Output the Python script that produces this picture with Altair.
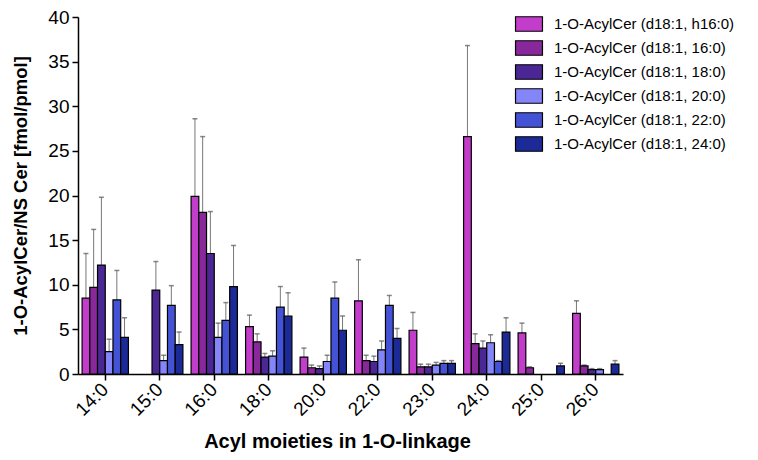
import altair as alt
import pandas as pd

cats = ["14:0", "15:0", "16:0", "18:0", "20:0", "22:0", "23:0", "24:0", "25:0", "26:0"]
series = ["1-O-AcylCer (d18:1, h16:0)", "1-O-AcylCer (d18:1, 16:0)", "1-O-AcylCer (d18:1, 18:0)",
          "1-O-AcylCer (d18:1, 20:0)", "1-O-AcylCer (d18:1, 22:0)", "1-O-AcylCer (d18:1, 24:0)"]
colors = ["#C23DC9", "#88289A", "#4B2796", "#8585FA", "#4453D6", "#1B2A96"]

h16 = [8.5, None, 19.9, 5.3, 1.9, 8.2, 4.9, 26.6, 4.6, 6.8]
h16_up = [13.5, None, 28.6, 6.6, 2.9, 12.8, 6.9, 36.8, 5.7, 8.2]
s16 = [9.7, None, 18.1, 3.6, 0.7, 1.5, 0.8, 3.4, 0.7, 0.9]
s16_up = [16.2, None, 26.6, 4.5, 1.0, 2.1, 1.1, 4.5, 0.8, 1.0]
s18 = [12.2, 9.4, 13.5, 1.9, 0.6, 1.4, 0.8, 2.9, None, 0.5]
s18_up = [19.8, 12.6, 18.2, 2.3, 0.9, 2.0, 1.1, 3.7, None, 0.6]
s20 = [2.5, 1.5, 4.1, 2.0, 1.4, 2.7, 1.0, 3.5, None, 0.5]
s20_up = [3.9, 2.1, 5.7, 2.6, 2.1, 3.7, 1.3, 4.4, None, 0.6]
s22 = [8.3, 7.7, 6.0, 7.5, 8.5, 7.7, 1.2, 1.4, None, None]
s22_up = [11.6, 9.9, 8.0, 9.8, 10.3, 8.8, 1.5, 1.5, None, None]
s24 = [4.1, 3.3, 9.8, 6.5, 4.9, 4.0, 1.2, 4.7, 0.9, 1.1]
s24_up = [6.3, 4.7, 14.4, 9.1, 6.5, 5.1, 1.5, 6.3, 1.2, 1.5]

vals = [h16, s16, s18, s20, s22, s24]
ups = [h16_up, s16_up, s18_up, s20_up, s22_up, s24_up]

rows = []
for si, s in enumerate(series):
    for ci, c in enumerate(cats):
        v = vals[si][ci]
        if v is None:
            continue
        rows.append({"cat": c, "series": s, "value": v, "upper": ups[si][ci]})
df = pd.DataFrame(rows)

FONT = "Liberation Sans"

x_enc = alt.X("cat:N", sort=cats,
              scale=alt.Scale(paddingInner=0.15, paddingOuter=0.075),
              axis=alt.Axis(title="Acyl moieties in 1-O-linkage", labelAngle=-45,
                            labelFontSize=19, labelColor="black", labelFont=FONT,
                            titleFontSize=20, titleFont=FONT, titleFontWeight="bold",
                            titleColor="black", titlePadding=12, titleX=259,
                            domainColor="black", domainWidth=1.5, tickColor="black",
                            tickWidth=1.5, tickSize=6, labelPadding=6))
xoff = alt.XOffset("series:N", sort=series, scale=alt.Scale(paddingInner=0, paddingOuter=0))

y_scale = alt.Scale(domain=[0, 40], nice=False)

bars = alt.Chart(df).mark_bar(stroke="black", strokeWidth=1.2).encode(
    x=x_enc,
    xOffset=xoff,
    y=alt.Y("value:Q", scale=y_scale,
            axis=alt.Axis(title="1-O-AcylCer/NS Cer [fmol/pmol]", values=list(range(0, 41, 5)),
                          grid=False, labelFontSize=19, labelColor="black", labelFont=FONT,
                          titleFontSize=18.5, titleFont=FONT, titleFontWeight="bold",
                          titleColor="black", titlePadding=17,
                          domainColor="black", domainWidth=1.5, tickColor="black",
                          tickWidth=1.5, tickSize=6, labelPadding=3)),
    color=alt.Color("series:N", sort=series,
                    scale=alt.Scale(domain=series, range=colors),
                    legend=alt.Legend(title=None, orient="none", legendX=443, legendY=-1,
                                      labelFontSize=15, labelFont=FONT, labelColor="black",
                                      labelLimit=0,
                                      symbolType="M-1.86,-1L1.86,-1L1.86,1L-1.86,1Z",
                                      symbolSize=210, symbolStrokeColor="black",
                                      symbolStrokeWidth=1.2, symbolOpacity=1,
                                      rowPadding=4, labelOffset=17)),
)

rules = alt.Chart(df).mark_rule(color="#777777", strokeWidth=1).encode(
    x=alt.X("cat:N", sort=cats),
    xOffset=alt.XOffset("series:N", sort=series),
    y=alt.Y("value:Q", scale=y_scale),
    y2="upper:Q",
)

caps = alt.Chart(df).mark_tick(color="#555555", thickness=1.5, size=5).encode(
    x=alt.X("cat:N", sort=cats),
    xOffset=alt.XOffset("series:N", sort=series),
    y=alt.Y("upper:Q", scale=y_scale),
)

chart = alt.layer(rules, caps, bars).properties(
    width=545, height=357, padding={"left": 3, "top": 0, "right": 5, "bottom": 3}
).configure(background="white").configure_view(stroke=None)

chart.save("out.html", embed_options={"renderer": "svg", "actions": False})
